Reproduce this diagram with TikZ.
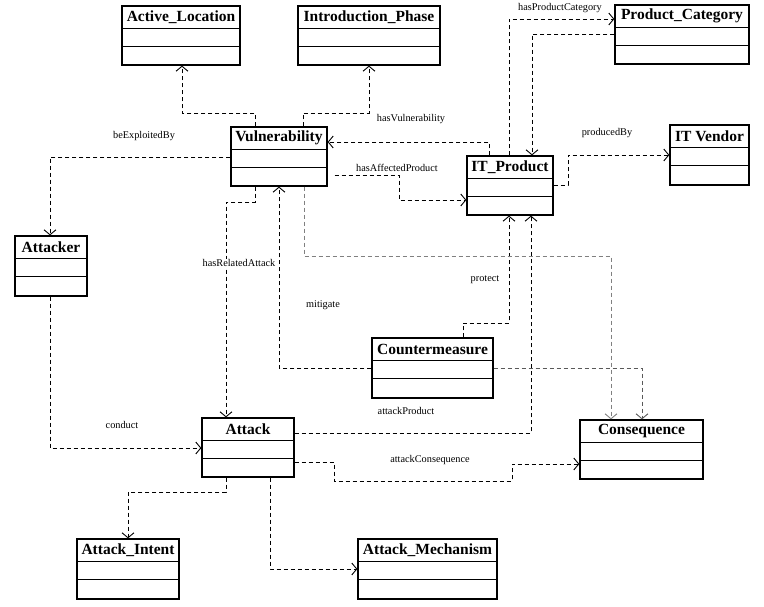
\documentclass[tikz,border=0pt]{standalone}
\usepackage{fontspec}
\setmainfont{Liberation Serif}
\usetikzlibrary{arrows.meta, fit}

\tikzset{
  classbox/.style={draw, line width=1.3pt, inner sep=0pt},
  classtitle/.style={anchor=north, minimum height=23pt, inner sep=0pt, font=\fontsize{15.5}{18}\selectfont\bfseries},
  link/.style={line width=0.9pt, dash pattern=on 4pt off 3pt, -{Straight Barb[length=5pt,width=12pt]}},
  lbl/.style={font=\fontsize{10.3}{12}\selectfont, inner sep=0.5pt},
}

% class box: name, left, top, right, bottom, title
\newcommand{\umlclass}[6]{%
  \node[classbox, fit={(#2,#3) (#4,#5)}] (#1) {};
  \node[classtitle] (#1-title) at (#1.north) {#6};
  \draw[line width=1.3pt] ([yshift=-23pt]#1.north west) -- ([yshift=-23pt]#1.north east);
  \draw[line width=1.3pt] ([yshift=-41pt]#1.north west) -- ([yshift=-41pt]#1.north east);
}

\begin{document}
\begin{tikzpicture}[x=1pt, y=-1pt]
\useasboundingbox (0,0) rectangle (764,607);
% classes
\umlclass{actloc}{122}{6}{240}{65}{Active\_Location}
\umlclass{intro}{298}{6}{440}{65}{Introduction\_Phase}
\umlclass{prodcat}{615}{5}{749}{64}{Product\_Category}
\umlclass{vuln}{231}{127}{327}{186}{Vulnerability}
\umlclass{itprod}{467}{156}{553}{215}{IT\_Product}
\umlclass{vendor}{670}{125}{749}{185}{IT Vendor}
\umlclass{attacker}{15}{236}{87}{296}{Attacker}
\umlclass{counter}{372}{338}{493}{398}{Countermeasure}
\umlclass{attack}{202}{418}{294}{477}{Attack}
\umlclass{conseq}{580}{420}{703}{479}{Consequence}
\umlclass{intent}{77}{539}{179}{599}{Attack\_Intent}
\umlclass{mech}{358}{539}{497}{599}{Attack\_Mechanism}

% connectors
\draw[link] (vuln.north -| 255,0) -- (255,113) -| (actloc.south -| 182,0);
\draw[link] (vuln.north -| 303,0) -- (303,113) -| (intro.south -| 369,0);
\draw[link] (vuln.west |- 0,157) -| (attacker.north -| 50,0);
\draw[link] (itprod.north -| 489,0) |- (vuln.east |- 0,142);
\draw[link, shorten <=7pt] (vuln.east |- 0,175) -| (399,200) -- (itprod.west |- 0,200);
\draw[link] (itprod.north -| 509,0) |- (prodcat.west |- 0,19);
\draw[link] (prodcat.west |- 0,34) -| (itprod.north -| 532,0);
\draw[link] (itprod.east |- 0,185) -- (568,185) |- (vendor.west |- 0,155);
\draw[link] (attacker.south -| 50,0) |- (attack.west |- 0,448);
\draw[link] (vuln.south -| 255,0) -- (255,202) -| (attack.north -| 226,0);
\draw[link] (counter.west |- 0,368) -| (vuln.south -| 279,0);
\draw[link] (counter.north -| 463,0) -- (463,323) -| (itprod.south -| 509,0);
\draw[link] (attack.east |- 0,433) -| (itprod.south -| 531,0);
\draw[link, draw=gray] (vuln.south -| 304,0) -- (304,256) -| (conseq.north -| 611,0);
\draw[link, draw=black!65] (counter.east |- 0,368) -| (conseq.north -| 642,0);
\draw[link] (attack.east |- 0,462) -| (334,481) -| (512,464) -- (conseq.west |- 0,464);
\draw[link] (attack.south -| 226,0) -- (226,492) -| (intent.north -| 128,0);
\draw[link] (attack.south -| 270,0) |- (mech.west |- 0,569);

% labels
\node[lbl] (lbl-exploit) at (144,136) {beExploitedBy};
\node[lbl] (lbl-hasvuln) at (411,119) {hasVulnerability};
\node[lbl] (lbl-affected) at (397,168) {hasAffectedProduct};
\node[lbl] (lbl-category) at (560,8) {hasProductCategory};
\node[lbl] (lbl-produced) at (607,133) {producedBy};
\node[lbl, fill=white] (lbl-related) at (239,263) {hasRelatedAttack};
\node[lbl] (lbl-mitigate) at (323,305) {mitigate};
\node[lbl] (lbl-protect) at (485,280) {protect};
\node[lbl] (lbl-attprod) at (406,411) {attackProduct};
\node[lbl] (lbl-attcons) at (430,460) {attackConsequence};
\node[lbl] (lbl-conduct) at (122,425) {conduct};
\end{tikzpicture}
\end{document}
